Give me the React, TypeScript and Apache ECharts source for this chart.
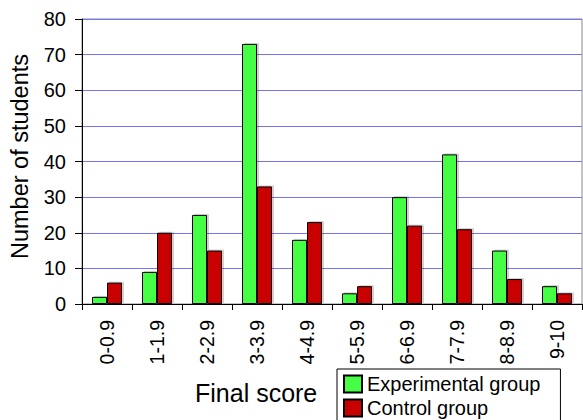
import React, { useEffect, useRef } from "react";
import * as echarts from "echarts";

const categories = ["0-0.9", "1-1.9", "2-2.9", "3-3.9", "4-4.9", "5-5.9", "6-6.9", "7-7.9", "8-8.9", "9-10"];
const experimental = [2, 9, 25, 73, 18, 3, 30, 42, 15, 5];
const control = [6, 20, 15, 33, 23, 5, 22, 21, 7, 3];
const seriesNames = ["Experimental group", "Control group"];

const FONT = "'Liberation Sans', Arial, sans-serif";

export default function App() {
  const ref = useRef<HTMLDivElement>(null);
  useEffect(() => {
    if (!ref.current) return;
    const chart = echarts.init(ref.current, null, { renderer: "svg" });
    const barStyle = (color: string) => ({
      color,
      borderColor: "#000",
      borderWidth: 1,
      shadowColor: "rgba(0,0,0,0.18)",
      shadowOffsetX: 2,
      shadowOffsetY: -1,
      shadowBlur: 0,
    });
    chart.setOption({
      animation: false,
      backgroundColor: "#fff",
      textStyle: { fontFamily: FONT, color: "#000" },
      grid: {
        left: 81,
        top: 19,
        right: 1,
        bottom: 116,
        show: true,
        borderColor: "#888",
        borderWidth: 1,
      },
      legend: {
        orient: "vertical",
        left: 337,
        top: 369,
        height: 60,
        padding: [5, 20, 12, 6],
        borderColor: "#000",
        borderWidth: 1,
        icon: "rect",
        itemWidth: 18,
        itemHeight: 17,
        itemGap: 4,
        textStyle: { fontFamily: FONT, fontSize: 20, color: "#000", lineHeight: 20 },
        data: seriesNames,
      },
      xAxis: {
        type: "category",
        data: categories,
        axisLine: { lineStyle: { color: "#000", width: 1 } },
        axisTick: { show: true, length: 6, lineStyle: { color: "#000" } },
        axisLabel: { rotate: 90, fontSize: 19.5, margin: 16, color: "#000", fontFamily: FONT },
      },
      yAxis: {
        type: "value",
        min: 0,
        max: 80,
        interval: 10,
        name: "Number of students",
        nameLocation: "middle",
        nameGap: 50,
        nameTextStyle: { fontSize: 23.5, color: "#000", fontFamily: FONT, padding: [0, 0, 0, 10] },
        axisLine: { show: true, lineStyle: { color: "#000", width: 1 } },
        axisTick: { show: true, length: 7, lineStyle: { color: "#000" } },
        axisLabel: { fontSize: 20, margin: 16, color: "#000", fontFamily: FONT },
        splitLine: { lineStyle: { color: "#7474ff", width: 1 } },
      },
      graphic: [
        {
          type: "text",
          left: 195,
          top: 380,
          style: { text: "Final score", font: `25px ${FONT}`, fill: "#000" },
        },
      ],
      series: [
        {
          name: seriesNames[0],
          type: "bar",
          data: experimental,
          barWidth: 15,
          barGap: "0%",
          itemStyle: barStyle("#44ff44"),
        },
        {
          name: seriesNames[1],
          type: "bar",
          data: control,
          barWidth: 15,
          barGap: "0%",
          itemStyle: barStyle("#c80000"),
        },
      ],
    });
    return () => chart.dispose();
  }, []);
  return (
    <div style={{ position: "absolute", left: 0, top: 0, width: 583, height: 420 }}>
      <div ref={ref} style={{ width: 583, height: 420 }} />
    </div>
  );
}
